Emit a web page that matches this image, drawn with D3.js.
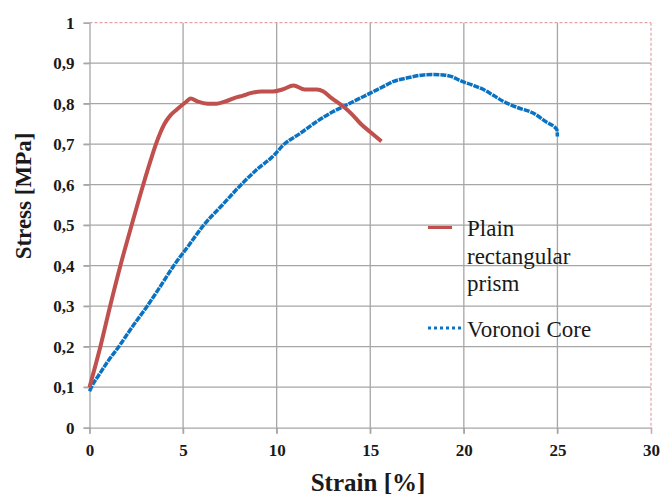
<!DOCTYPE html>
<html>
<head>
<meta charset="utf-8">
<script src="https://cdn.jsdelivr.net/npm/d3@7"></script>
<style>
  body { margin: 0; background: #fff; }
  text { font-family: "Liberation Serif", "Times New Roman", serif; }
</style>
</head>
<body>
<div class="canva"></div>
<script>
// tick labels (comma decimals as in the original)
const xTicks = [0, 5, 10, 15, 20, 25, 30];
const yTicks = [0, 0.1, 0.2, 0.3, 0.4, 0.5, 0.6, 0.7, 0.8, 0.9, 1];

// Plain rectangular prism
const plainStrain = [0, 0.58, 1.1, 1.65, 2.25, 2.87, 3.3, 3.55, 3.8, 4.0, 4.3, 4.65, 5.2, 5.4, 5.8, 6.3, 6.8, 7.3, 7.8, 8.2, 8.6, 9.2, 9.8, 10.3, 10.9, 11.5, 12.15, 12.5, 12.9, 13.56, 14.0, 14.5, 15.0, 15.6];
const plainStress = [0.10, 0.20, 0.30, 0.40, 0.50, 0.60, 0.665, 0.70, 0.73, 0.75, 0.77, 0.785, 0.806, 0.813, 0.805, 0.80, 0.80, 0.806, 0.815, 0.82, 0.826, 0.83, 0.83, 0.835, 0.845, 0.835, 0.835, 0.83, 0.815, 0.793, 0.775, 0.75, 0.73, 0.707];

// Voronoi Core
const voronoiStrain = [0, 0.1, 0.5, 1.0, 1.56, 2.3, 3.08, 3.8, 4.5, 5.3, 6.1, 7.1, 8.1, 9.0, 9.8, 10.4, 11.2, 12.15, 13.0, 13.57, 14.3, 15.0, 15.6, 16.25, 17.0, 17.85, 18.4, 18.9, 19.4, 19.8, 20.4, 21.05, 21.6, 22.1, 22.9, 23.7, 24.4, 24.97, 25.0];
const voronoiStress = [0.09, 0.10, 0.13, 0.165, 0.20, 0.25, 0.30, 0.35, 0.40, 0.45, 0.50, 0.55, 0.60, 0.64, 0.67, 0.70, 0.725, 0.756, 0.78, 0.793, 0.81, 0.826, 0.84, 0.855, 0.864, 0.871, 0.872, 0.871, 0.866, 0.857, 0.847, 0.835, 0.82, 0.806, 0.79, 0.777, 0.755, 0.736, 0.719];

const seriesNames = ["Plain rectangular prism", "Voronoi Core"];

const svg = d3.select(".canva").append("svg")
    .attr("width", 661)
    .attr("height", 495);

const x = d3.scaleLinear().domain([0, 30]).range([89.5, 651]);
const y = d3.scaleLinear().domain([0, 1]).range([427.7, 22.7]);

const fmt = d => String(d).replace(".", ",");

// grid
svg.append("g").selectAll("line")
    .data(yTicks.filter(d => d > 0 && d < 1))
    .join("line")
    .attr("x1", x(0) - 6).attr("x2", x(30))
    .attr("y1", d => y(d)).attr("y2", d => y(d))
    .attr("stroke", "#a6a6a6").attr("stroke-width", 1.3);

svg.append("g").selectAll("line")
    .data(xTicks.filter(d => d > 0 && d < 30))
    .join("line")
    .attr("x1", d => x(d)).attr("x2", d => x(d))
    .attr("y1", y(1)).attr("y2", y(0) + 6)
    .attr("stroke", "#a6a6a6").attr("stroke-width", 1.3);

// plot border: top and right dotted pink
svg.append("line")
    .attr("x1", x(0)).attr("x2", x(30)).attr("y1", y(1)).attr("y2", y(1))
    .attr("stroke", "#e2a3a6").attr("stroke-width", 1.2).attr("stroke-dasharray", "3,2");
svg.append("line")
    .attr("x1", x(30)).attr("x2", x(30)).attr("y1", y(1)).attr("y2", y(0))
    .attr("stroke", "#e2a3a6").attr("stroke-width", 1.2).attr("stroke-dasharray", "3,2");

// axes
const xAxis = svg.append("g")
    .attr("transform", `translate(0,${y(0)})`)
    .call(d3.axisBottom(x).tickValues(xTicks).tickSize(6).tickFormat(d => d));
const yAxis = svg.append("g")
    .attr("transform", `translate(${x(0)},0)`)
    .call(d3.axisLeft(y).tickValues(yTicks).tickSize(6).tickFormat(fmt));

[xAxis, yAxis].forEach(a => {
    a.attr("font-family", null);
    a.select(".domain").attr("stroke", "#a6a6a6").attr("stroke-width", 1.3);
    a.selectAll(".tick line").attr("stroke", "#a6a6a6").attr("stroke-width", 1.3);
    a.selectAll(".tick text")
        .attr("fill", "#1a1a1a")
        .style("font-family", "'Liberation Serif', 'Times New Roman', serif")
        .style("font-size", "17px")
        .style("font-weight", "bold");
});
xAxis.selectAll(".tick text").attr("dy", "0.71em").attr("y", 16);
yAxis.selectAll(".tick text").attr("x", -15);
xAxis.select(".tick:last-of-type line").attr("stroke", "#e2a3a6");

// lines
const line = d3.line()
    .x(d => x(d[0]))
    .y(d => y(d[1]))
    .curve(d3.curveMonotoneX);

const plain = plainStrain.map((s, i) => [s, plainStress[i]]);
const voronoi = voronoiStrain.map((s, i) => [s, voronoiStress[i]]);

svg.append("path")
    .datum(voronoi)
    .attr("d", line)
    .attr("fill", "none")
    .attr("stroke", "#0a72c2")
    .attr("stroke-width", 3.5)
    .attr("stroke-dasharray", "6,1");

svg.append("path")
    .datum(plain)
    .attr("d", line)
    .attr("fill", "none")
    .attr("stroke", "#c0504d")
    .attr("stroke-width", 4)
    .attr("stroke-linejoin", "round");

// legend
const legend = svg.append("g");
legend.append("line")
    .attr("x1", 428).attr("x2", 452).attr("y1", 227.5).attr("y2", 227.5)
    .attr("stroke", "#c0504d").attr("stroke-width", 3);
legend.append("text")
    .attr("x", 467).attr("y", 236)
    .style("font-size", "23px").attr("fill", "#1a1a1a")
    .selectAll("tspan")
    .data(["Plain", "rectangular", "prism"])
    .join("tspan")
    .attr("x", 467)
    .attr("dy", (d, i) => i === 0 ? 0 : 27.5)
    .text(d => d);

legend.append("line")
    .attr("x1", 428).attr("x2", 463).attr("y1", 328).attr("y2", 328)
    .attr("stroke", "#0a72c2").attr("stroke-width", 3).attr("stroke-dasharray", "3,3");
legend.append("text")
    .attr("x", 467).attr("y", 337)
    .style("font-size", "23px").attr("fill", "#1a1a1a")
    .text(seriesNames[1]);

// axis titles
svg.append("text")
    .attr("x", 368).attr("y", 491)
    .attr("text-anchor", "middle")
    .style("font-size", "25px").style("font-weight", "bold")
    .attr("fill", "#1a1a1a")
    .text("Strain [%]");

svg.append("text")
    .attr("transform", "translate(31,196) rotate(-90)")
    .attr("text-anchor", "middle")
    .style("font-size", "23px").style("font-weight", "bold")
    .attr("fill", "#1a1a1a")
    .text("Stress [MPa]");
</script>
</body>
</html>
